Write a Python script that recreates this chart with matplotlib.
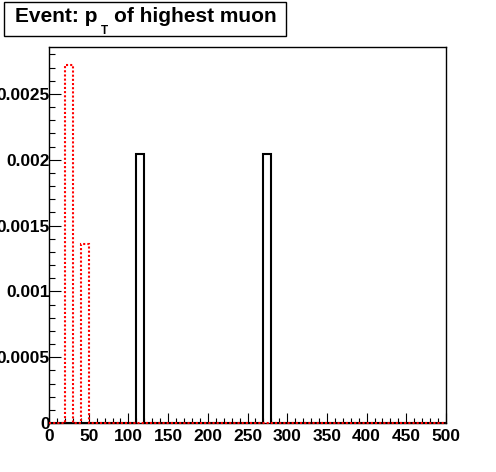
import numpy as np
import matplotlib.pyplot as plt
from matplotlib.patches import Rectangle
from matplotlib.text import Annotation
from matplotlib.ticker import MultipleLocator, FuncFormatter

plt.rcParams['font.family'] = ['Liberation Sans', 'DejaVu Sans']
plt.rcParams['font.weight'] = 'bold'

# Histogram data: 50 bins of width 10 from 0 to 500
bin_edges = np.arange(0, 501, 10)
black_bins = [110, 270]          # lower edges of filled bins
black_vals = [0.00204, 0.00204]
red_bins = [20, 40]
red_vals = [0.00272, 0.00136]

title_main = "Event: p"
title_sub = "T"
title_rest = "of highest muon"


def fill_hist(bins, vals):
    h = np.zeros(len(bin_edges) - 1)
    for b, v in zip(bins, vals):
        h[int(b // 10)] = v
    return h


black_h = fill_hist(black_bins, black_vals)
red_h = fill_hist(red_bins, red_vals)

W, H = 496, 472
fig = plt.figure(figsize=(W / 100, H / 100), dpi=100)
ax = fig.add_axes([49 / W, (H - 423) / H, (446 - 49) / W, (423 - 47) / H])

ax.stairs(black_h, bin_edges, color='black', linewidth=1.5, clip_on=False, zorder=3)
ax.stairs(red_h, bin_edges, color='#ff0000', linewidth=1.5,
          linestyle=(0, (1, 1)), clip_on=False, zorder=4)

ax.set_xlim(0, 500)
ax.set_ylim(0, 1.05 * max(red_vals))

ax.xaxis.set_major_locator(MultipleLocator(50))
ax.xaxis.set_minor_locator(MultipleLocator(10))
ax.yaxis.set_major_locator(MultipleLocator(0.0005))
ax.yaxis.set_minor_locator(MultipleLocator(0.0001))
ax.yaxis.set_major_formatter(FuncFormatter(lambda v, p: '%g' % round(v, 6)))

ax.tick_params(axis='both', which='both', direction='in', width=0.8,
               top=False, right=False, labelsize=12.5)
ax.tick_params(axis='x', which='major', length=7.2, pad=4)
ax.tick_params(axis='x', which='minor', length=3.6)
ax.tick_params(axis='y', which='major', length=8.6, pad=-0.5)
ax.tick_params(axis='y', which='minor', length=4.3)
for lab in ax.get_xticklabels() + ax.get_yticklabels():
    lab.set_fontweight('bold')
for s in ax.spines.values():
    s.set_linewidth(1.0)

# title box in ROOT style
fig.patches.append(Rectangle((4 / W, (H - 36) / H), 282 / W, 34 / H,
                             transform=fig.transFigure, facecolor='white',
                             edgecolor='black', linewidth=1.0, zorder=1))
t1 = fig.text(15 / W, (H - 22) / H, title_main, fontsize=15,
              fontweight='bold', va='baseline', ha='left', zorder=5)
# subscript T sits low, on the bottom edge of the box
t2 = Annotation(title_sub, xy=(1, 0), xycoords=t1, xytext=(2.5, -6),
                textcoords='offset points', fontsize=8.5, fontweight='bold',
                va='baseline', ha='left', zorder=5)
fig.add_artist(t2)
t3 = Annotation(title_rest, xy=(1, 0), xycoords=(t2, t1), xytext=(4.5, 0),
                textcoords='offset points', fontsize=15, fontweight='bold',
                va='bottom', ha='left', zorder=5)
fig.add_artist(t3)

fig.savefig('out.png', dpi=100)
